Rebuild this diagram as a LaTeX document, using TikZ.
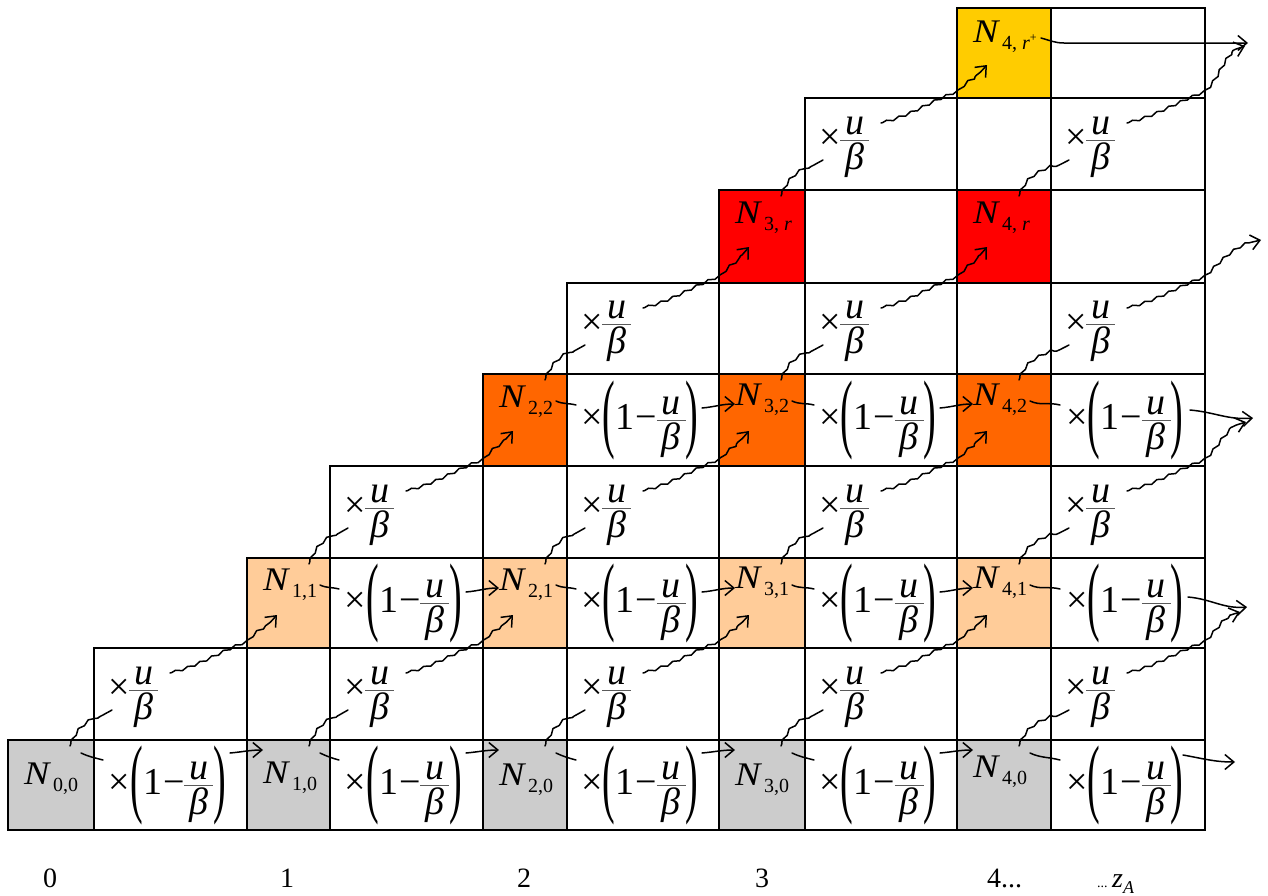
\documentclass[tikz,border=0pt]{standalone}
\usepackage{fix-cm}
\usepackage{graphicx}
\usepackage{fontspec}
\setmainfont{Liberation Serif}
\usetikzlibrary{arrows.meta,decorations.pathmorphing}
\definecolor{cgray}{RGB}{204,204,204}
\definecolor{clo}{RGB}{255,204,153}
\definecolor{cor}{RGB}{255,102,0}
\definecolor{cred}{RGB}{255,0,0}
\definecolor{cgold}{RGB}{255,204,0}
\definecolor{barc}{RGB}{90,90,90}
\newcommand{\fUB}{$\vcenter{\offinterlineskip\halign{\hfil##\hfil\cr\noalign{\kern14pt}\textit{u}\cr\noalign{\kern5pt{\color{barc}\hrule height 1pt}\kern2pt}\kern5pt\textit{β}\kern5pt\cr}}$}
\newcommand{\LPar}{$\vcenter{\hbox{\scalebox{1}[2.3]{(}}}$}
\newcommand{\RPar}{$\vcenter{\hbox{\scalebox{1}[2.3]{)}}}$}
\newcommand{\multA}{×\LPar 1\kern1pt−\fUB\RPar}
\newcommand{\multB}{×\fUB}
\newcommand{\subs}[1]{\raisebox{-7pt}{\fontsize{20}{21}\selectfont #1}}
\tikzset{
  cell/.style={draw=black, line width=1.7pt, anchor=north west, inner sep=0pt, outer sep=0pt},
  lab/.style={font=\fontsize{33}{38}\selectfont, inner sep=0pt, outer sep=0pt},
  fm/.style={font=\fontsize{38}{44}\selectfont, inner sep=0pt, outer sep=0pt},
  axl/.style={font=\fontsize{28}{34}\selectfont, inner sep=0pt, outer sep=0pt},
  arr/.style={line width=1.5pt, line cap=round, line join=round},
  tip/.style={-{Straight Barb[length=9pt,width=15pt]}},
  wig/.style={decorate, decoration={snake, amplitude=1.2pt, segment length=13pt, pre length=2pt, post length=10pt}}
}
\newcommand{\Nnode}[4]{\node[lab, anchor=base west] (n-#1-#2) at ([xshift=16pt,yshift=-#4pt]c-#1-#2.north west) {\scalebox{1.15}[1]{\textit{N}}\kern2pt\subs{#3}};}
\newcommand{\MA}[2]{\node[fm] (m-#1-#2) at ([xshift=-3pt]c-#1-#2.center) {\multA};}
\newcommand{\MB}[2]{\node[fm, anchor=west] (m-#1-#2) at ([xshift=14pt,yshift=4pt]c-#1-#2.west) {\multB};}
% horizontal tail: N cell #1-#2 -> multiplier cell #3-#2
\newcommand{\Htail}[5]{\draw[arr] ([xshift=73pt,yshift=-#4pt]c-#1-#2.north west) to[out=-25,in=165] ([xshift=9pt,yshift=-#5pt]c-#3-#2.north west);}
% horizontal head: multiplier cell #1-#2 -> N cell #3-#2
\newcommand{\Hhead}[5]{\draw[arr,tip] ([xshift=-17pt,yshift=-#4pt]c-#1-#2.north east) to[out=5,in=180] ([xshift=16pt,yshift=-#5pt]c-#3-#2.north west);}
% diagonal tail: N cell #1-#2 -> multiplier cell #3-#4
\newcommand{\Dtail}[4]{\draw[arr,wig] ([xshift=62pt,yshift=-6pt]c-#1-#2.north west) to[out=70,in=210] ([xshift=18pt,yshift=-62pt]c-#3-#4.north west);}
% diagonal head: multiplier cell #1-#2 -> N cell #3-#4
\newcommand{\Dhead}[4]{\draw[arr,wig,tip] ([xshift=76pt,yshift=-25pt]c-#1-#2.north west) to[out=15,in=200] ([xshift=-2pt,yshift=6pt]c-#1-#2.north east) to[out=55,in=235] ([xshift=30pt,yshift=-57pt]c-#3-#4.north west);}
\newcommand{\DheadOff}[3]{\draw[arr,wig,tip] ([xshift=76pt,yshift=-25pt]c-#1-#2.north west) to[out=15,in=200] ([xshift=-2pt,yshift=6pt]c-#1-#2.north east) to[out=45,in=190] (#3);}
\begin{document}
\begin{tikzpicture}[x=1pt,y=-1pt]
\useasboundingbox (0,0) rectangle (1268,895);
\def\XL{{8,94,247,330,483,567,719,805,957,1051,1205}}
\def\YT{{740,648,558,466,374,283,190,98,8}}
\def\YB{{830,740,648,558,466,374,283,190,98}}
\foreach \r/\rc in {0/cgray,1/white,2/clo,3/white,4/cor,5/white,6/cred,7/white,8/cgold}{
  \foreach \c in {\r,...,9}{
    \pgfmathsetmacro\cL{\XL[\c]}
    \pgfmathsetmacro\cR{\XL[\c+1]}
    \pgfmathsetmacro\cT{\YT[\r]}
    \pgfmathsetmacro\cB{\YB[\r]}
    \pgfmathtruncatemacro\isN{mod(\c,2)==0 ? 1 : 0}
    \ifnum\isN=1 \def\fc{\rc}\else\def\fc{white}\fi
    \node[cell, fill=\fc, minimum width={\cR pt-\cL pt}, minimum height={\cB pt-\cT pt}] (c-\c-\r) at (\cL,\cT) {};
  }
}
% N labels
\Nnode{0}{0}{0,0}{44}
\Nnode{2}{0}{1,0}{43}
\Nnode{4}{0}{2,0}{45}
\Nnode{6}{0}{3,0}{45}
\Nnode{8}{0}{4,0}{37}
\Nnode{2}{2}{1,1}{32}
\Nnode{4}{2}{2,1}{32}
\Nnode{6}{2}{3,1}{30}
\Nnode{8}{2}{4,1}{30}
\Nnode{4}{4}{2,2}{33}
\Nnode{6}{4}{3,2}{31}
\Nnode{8}{4}{4,2}{31}
\Nnode{6}{6}{3, \textit{r}}{33}
\Nnode{8}{6}{4, \textit{r}}{33}
\Nnode{8}{8}{4, \textit{r}\raisebox{8pt}{\fontsize{12}{13}\selectfont +}}{34}
% multipliers
\MA{1}{0}\MA{3}{0}\MA{5}{0}\MA{7}{0}\MA{9}{0}
\MA{3}{2}\MA{5}{2}\MA{7}{2}\MA{9}{2}
\MA{5}{4}\MA{7}{4}\MA{9}{4}
\MB{1}{1}\MB{3}{1}\MB{5}{1}\MB{7}{1}\MB{9}{1}
\MB{3}{3}\MB{5}{3}\MB{7}{3}\MB{9}{3}
\MB{5}{5}\MB{7}{5}\MB{9}{5}
\MB{7}{7}\MB{9}{7}
% free ends
\coordinate (off-h-0) at (1235,762);
\coordinate (off-h-2) at (1247,607);
\coordinate (off-h-4) at (1253,418);
\coordinate (off-h-8) at (1248,43);
\coordinate (off-d-0) at (1240,612);
\coordinate (off-d-2) at (1246,422);
\coordinate (off-d-4) at (1261,240);
\coordinate (off-d-6) at (1245,46);
% horizontal arrows, row 0
\Htail{0}{0}{1}{13}{20}\Hhead{1}{0}{2}{13}{10}
\Htail{2}{0}{3}{13}{20}\Hhead{3}{0}{4}{13}{10}
\Htail{4}{0}{5}{13}{20}\Hhead{5}{0}{6}{13}{10}
\Htail{6}{0}{7}{13}{20}\Hhead{7}{0}{8}{13}{10}
\Htail{8}{0}{9}{13}{20}
\draw[arr,tip] ([xshift=-22pt,yshift=-15pt]c-9-0.north east) to[out=-10,in=180] (off-h-0);
% horizontal arrows, row 2
\Htail{2}{2}{3}{27}{31}\Hhead{3}{2}{4}{34}{30}
\Htail{4}{2}{5}{27}{31}\Hhead{5}{2}{6}{34}{30}
\Htail{6}{2}{7}{27}{31}\Hhead{7}{2}{8}{34}{30}
\Htail{8}{2}{9}{27}{31}
\draw[arr,tip] ([xshift=-17pt,yshift=-39pt]c-9-2.north east) to[out=-5,in=185] (off-h-2);
% horizontal arrows, row 4
\Htail{4}{4}{5}{27}{31}\Hhead{5}{4}{6}{34}{30}
\Htail{6}{4}{7}{27}{31}\Hhead{7}{4}{8}{34}{30}
\Htail{8}{4}{9}{27}{31}
\draw[arr,tip] ([xshift=-15pt,yshift=-36pt]c-9-4.north east) to[out=-5,in=185] (off-h-4);
% top row
\draw[arr,tip] ([xshift=84pt,yshift=-30pt]c-8-8.north west) to[out=-15,in=180] ([xshift=13pt,yshift=-35pt]c-9-8.north west) -- (off-h-8);
% diagonal arrows
\Dtail{0}{0}{1}{1}\Dhead{1}{1}{2}{2}
\Dtail{2}{0}{3}{1}\Dhead{3}{1}{4}{2}
\Dtail{4}{0}{5}{1}\Dhead{5}{1}{6}{2}
\Dtail{6}{0}{7}{1}\Dhead{7}{1}{8}{2}
\Dtail{8}{0}{9}{1}\DheadOff{9}{1}{off-d-0}
\Dtail{2}{2}{3}{3}\Dhead{3}{3}{4}{4}
\Dtail{4}{2}{5}{3}\Dhead{5}{3}{6}{4}
\Dtail{6}{2}{7}{3}\Dhead{7}{3}{8}{4}
\Dtail{8}{2}{9}{3}\DheadOff{9}{3}{off-d-2}
\Dtail{4}{4}{5}{5}\Dhead{5}{5}{6}{6}
\Dtail{6}{4}{7}{5}\Dhead{7}{5}{8}{6}
\Dtail{8}{4}{9}{5}\DheadOff{9}{5}{off-d-4}
\Dtail{6}{6}{7}{7}\Dhead{7}{7}{8}{8}
\Dtail{8}{6}{9}{7}\DheadOff{9}{7}{off-d-6}
% axis labels
\node[axl, anchor=base] (b0) at (50,887) {0};
\node[axl, anchor=base] (b1) at (287,887) {1};
\node[axl, anchor=base] (b2) at (524,887) {2};
\node[axl, anchor=base] (b3) at (762,887) {3};
\node[axl, anchor=base west] (b4) at (987,887) {4...};
\node[axl, anchor=base west] (b5) at (1097,887) {{\fontsize{14}{16}\selectfont...}\,\textit{z}\raisebox{-6pt}{\fontsize{18}{20}\selectfont\textit{A}}};
\end{tikzpicture}
\end{document}
